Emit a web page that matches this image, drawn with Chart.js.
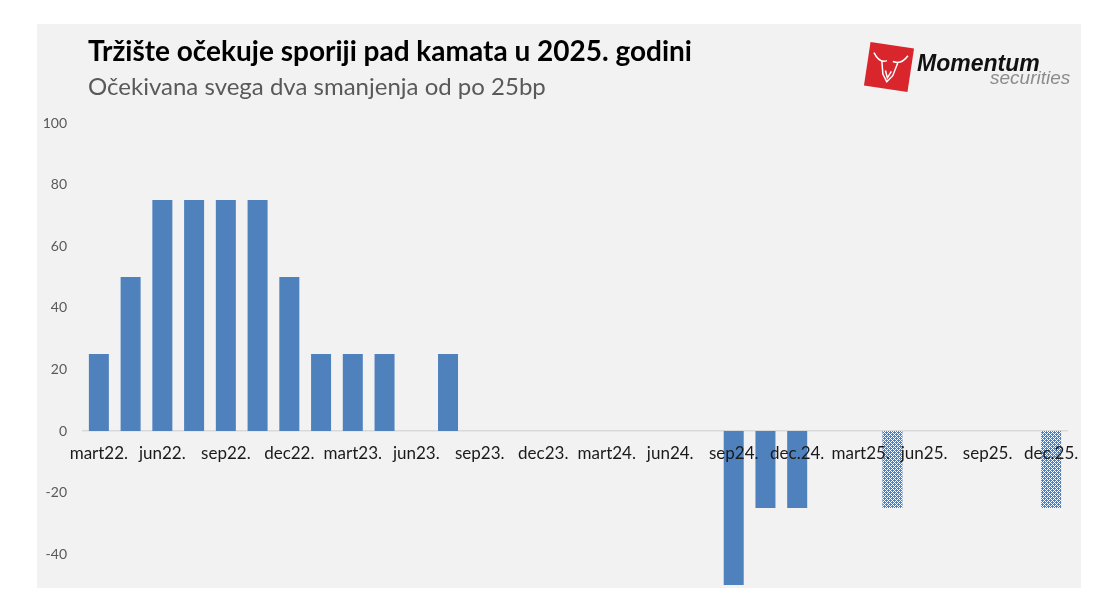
<!DOCTYPE html>
<html>
<head>
<meta charset="utf-8">
<script src="https://cdn.jsdelivr.net/npm/chart.js@4"></script>
<style>
  body { margin: 0; background: #fff; }
  #wrap { width: 1107px; height: 606px; }
</style>
</head>
<body>
<div id="wrap"><canvas id="dash"></canvas></div>
<script>
// FOMC sastanci, prikazuje se svaki drugi naziv
const categories = ['mart22.', 'maj22.', 'jun22.', 'jul22.', 'sep22.', 'nov22.', 'dec22.', 'feb23.',
  'mart23.', 'maj23.', 'jun23.', 'jul23.', 'sep23.', 'nov23.', 'dec23.', 'jan24.',
  'mart24.', 'maj24.', 'jun24.', 'jul24.', 'sep24.', 'nov24.', 'dec.24.', 'jan25.',
  'mart25.', 'maj25.', 'jun25.', 'jul25.', 'sep25.', 'okt25.', 'dec.25.'];

// promjena kamate u bp
const realized = [25, 50, 75, 75, 75, 75, 50, 25, 25, 25, 0, 25, 0, 0, 0, 0,
  0, 0, 0, 0, -50, -25, -25, 0, 0, null, 0, 0, 0, 0, null];
const expected = [null, null, null, null, null, null, null, null, null, null, null, null, null, null, null, null,
  null, null, null, null, null, null, null, null, null, -25, null, null, null, null, -25];

const yTicks = [100, 80, 60, 40, 20, 0, -20, -40];

const title = 'Tržište očekuje sporiji pad kamata u 2025. godini';
const subtitle = 'Očekivana svega dva smanjenja od po 25bp';

const blue = '#4f81bd';

// uzorak za ocekivana smanjenja (mreza)
function hatch() {
  const c = document.createElement('canvas');
  c.width = 4; c.height = 4;
  const g = c.getContext('2d');
  g.fillStyle = blue;
  g.fillRect(0, 0, 4, 4);
  g.fillStyle = '#ffffff';
  for (let x = 0; x < 4; x++) {
    for (let y = 0; y < 4; y++) {
      if ((x + y) % 4 === 0 || (x - y + 4) % 4 === 0) g.fillRect(x, y, 1, 1);
    }
  }
  return g.createPattern(c, 'repeat');
}

const frame = {
  id: 'frame',
  beforeDraw(chart) {
    const ctx = chart.ctx;
    ctx.save();
    ctx.fillStyle = '#f2f2f2';
    ctx.fillRect(37, 24, 1044, 564);
    ctx.textBaseline = 'alphabetic';
    ctx.fillStyle = '#000';
    ctx.font = 'bold 28px Lato';
    ctx.fillText(title, 88, 61);
    ctx.fillStyle = '#595959';
    ctx.font = '24px Lato';
    ctx.fillText(subtitle, 88, 95);
    ctx.restore();
  },
  afterDraw(chart) {
    const ctx = chart.ctx;
    ctx.save();
    // logo
    ctx.translate(889, 67);
    ctx.rotate(0.15);
    ctx.fillStyle = '#d8262c';
    ctx.fillRect(-22, -22, 44, 44);
    ctx.strokeStyle = '#fff';
    ctx.lineWidth = 1.5;
    ctx.beginPath();
    // rogovi
    ctx.moveTo(-17, -12); ctx.quadraticCurveTo(-10, -2, -3, -6);
    ctx.moveTo(3, -6); ctx.quadraticCurveTo(12, -4, 17, -14);
    // glava
    ctx.moveTo(-8, -5); ctx.lineTo(-5, 8); ctx.lineTo(0, 15); ctx.lineTo(5, 8); ctx.lineTo(8, -5);
    ctx.moveTo(-3, 4); ctx.lineTo(0, 11); ctx.lineTo(3, 4);
    ctx.stroke();
    ctx.restore();
    ctx.save();
    ctx.fillStyle = '#111';
    ctx.font = 'italic bold 23px "Liberation Sans"';
    ctx.fillText('Momentum', 917, 71);
    ctx.fillStyle = '#8c8c8c';
    ctx.font = 'italic 19px "Liberation Sans"';
    ctx.fillText('securities', 990, 84);
    ctx.restore();
  }
};

new Chart(document.getElementById('dash'), {
  type: 'bar',
  data: {
    labels: categories,
    datasets: [
      {
        label: 'Promjena',
        data: realized,
        backgroundColor: blue,
        barPercentage: 0.63,
        categoryPercentage: 1,
      },
      {
        label: 'Očekivano',
        data: expected,
        backgroundColor: hatch(),
        barPercentage: 0.63,
        categoryPercentage: 1,
      },
    ],
  },
  options: {
    responsive: true,
    maintainAspectRatio: false,
    animation: false,
    layout: { padding: { left: 37, right: 40, top: 123, bottom: 21 } },
    scales: {
      x: {
        stacked: true,
        position: { y: 0 },
        afterFit: (s) => { s.height = 0; },
        grid: { display: false, drawTicks: false },
        border: { display: true, color: '#d9d9d9', width: 1.5 },
        ticks: {
          z: 1,
          autoSkip: false,
          maxRotation: 0,
          padding: 12,
          color: '#1a1a1a',
          font: { family: 'Lato', size: 17 },
          callback: (v, i) => (i % 2 === 0 ? categories[i] : ''),
        },
      },
      y: {
        stacked: true,
        min: -50,
        max: 100,
        afterFit: (s) => { s.width = 46; },
        afterBuildTicks: (s) => { s.ticks = yTicks.map((v) => ({ value: v })); },
        grid: { display: false, drawTicks: true, tickLength: 16 },
        border: { display: false },
        ticks: {
          padding: 0,
          color: '#595959',
          font: { family: 'Lato', size: 14 },
        },
      },
    },
    plugins: {
      legend: { display: false },
      tooltip: { enabled: false },
    },
  },
  plugins: [frame],
});
</script>
</body>
</html>
